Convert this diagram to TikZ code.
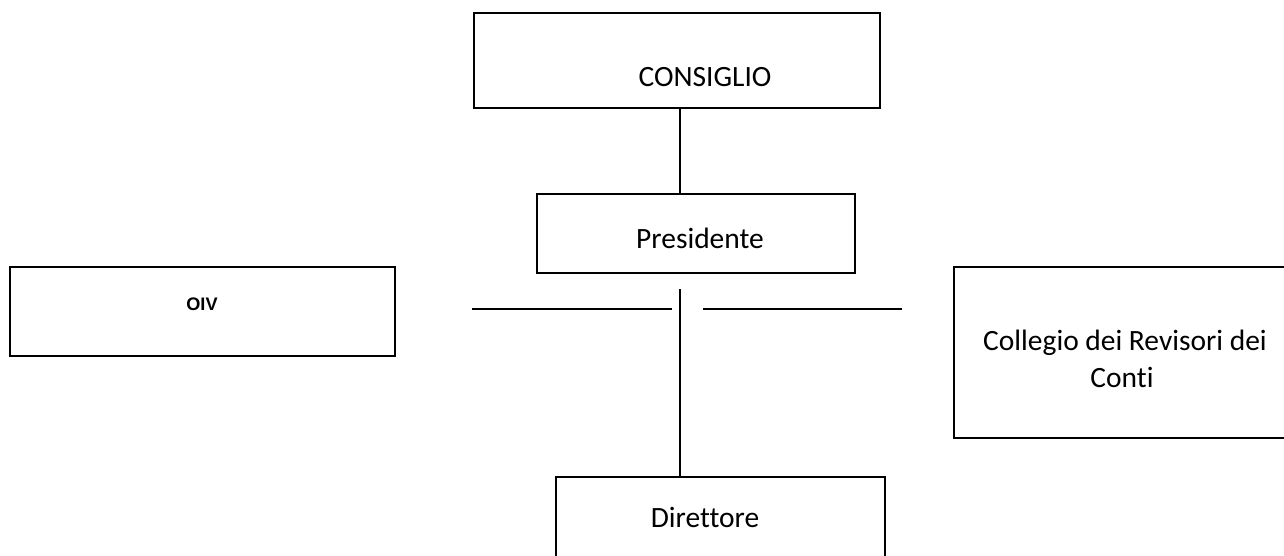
\documentclass[tikz,border=0pt]{standalone}
\usepackage{fontspec}
\setmainfont{Carlito}[Ligatures={NoCommon,NoContextual}]
\newfontfamily\arialbold{Liberation Sans Bold}
\begin{document}
\begin{tikzpicture}[x=0.75pt,y=-0.75pt,
  boxshape/.style={draw,line width=1.3pt,rectangle,inner sep=0pt,anchor=north west},
  lbl/.style={anchor=base,inner sep=0pt,font=\fontsize{22.1}{27}\selectfont},
  conn/.style={line width=1.3pt}]
\useasboundingbox (0,0) rectangle (1284,556);
% boxes
\node[boxshape,minimum width=406*0.75pt,minimum height=95*0.75pt] (consiglio) at (473,12) {};
\node[boxshape,minimum width=318*0.75pt,minimum height=79*0.75pt] (presidente) at (536,193) {};
\node[boxshape,minimum width=385*0.75pt,minimum height=89*0.75pt] (oiv) at (9,266) {};
\node[boxshape,minimum width=340*0.75pt,minimum height=171*0.75pt] (collegio) at (953,266) {};
\node[boxshape,minimum width=329*0.75pt,minimum height=100*0.75pt] (direttore) at (555,476) {};
% labels
\node[lbl] (tconsiglio) at (705,87) {CONSIGLIO};
\node[lbl] (tpresidente) at (700,248) {Presidente};
\node[lbl] (tdirettore) at (705,527) {Direttore};
\node[lbl,font=\arialbold\fontsize{13.6}{16}\selectfont] (toiv) at (202,310) {OIV};
\node[lbl] (tcollegioA) at (1125,350) {Collegio dei Revisori dei};
\node[lbl] (tcollegioB) at (1122,387) {Conti};
% connectors
\coordinate (spine) at (680,0);
\coordinate (spinetop) at (680,289);
\coordinate (hlA) at (472,309);
\coordinate (hlB) at (672,309);
\coordinate (hrA) at (703,309);
\coordinate (hrB) at (902,309);
\draw[conn] (consiglio.south -| spine) -- (presidente.north -| spine);
\draw[conn] (spinetop) -- (direttore.north -| spine);
\draw[conn] (hlA) -- (hlB);
\draw[conn] (hrA) -- (hrB);
\end{tikzpicture}
\end{document}
